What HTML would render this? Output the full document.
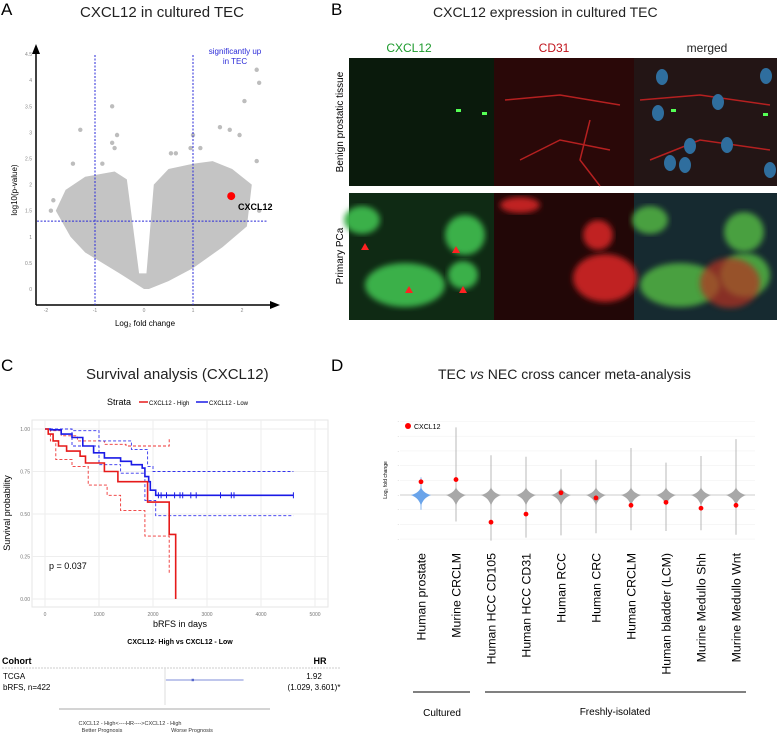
<!DOCTYPE html>
<html><head><meta charset="utf-8"><style>
body{margin:0;background:#fff;font-family:"Liberation Sans",sans-serif;}
#root{position:relative;width:780px;height:733px;overflow:hidden;}
.t{position:absolute;white-space:nowrap;}
</style></head><body>
<div id="root">
<div class="t" style="left:1px;top:0px;font-size:17px;">A</div>
<div class="t" style="left:80px;top:4px;font-size:15px;color:#222">CXCL12 in cultured TEC</div>
<div class="t" style="left:331px;top:0px;font-size:17px;">B</div>
<div class="t" style="left:433px;top:4px;font-size:14px;color:#222">CXCL12 expression in cultured TEC</div>
<div class="t" style="left:1px;top:356px;font-size:17px;">C</div>
<div class="t" style="left:86px;top:366px;font-size:15px;color:#222">Survival analysis (CXCL12)</div>
<div class="t" style="left:331px;top:356px;font-size:17px;">D</div>
<div class="t" style="left:438px;top:366px;font-size:14px;color:#222">TEC <i>vs</i> NEC cross cancer meta-analysis</div>
<svg id="svg" width="780" height="733" style="position:absolute;left:0;top:0">
<defs><filter id="bl"><feGaussianBlur stdDeviation="3"/></filter></defs>
</svg>
</div>
<script>
const NS="http://www.w3.org/2000/svg";const svg=document.getElementById('svg');
function el(tag,a,parent,txt){const e=document.createElementNS(NS,tag);for(const k in a)e.setAttribute(k,a[k]);if(txt!==undefined)e.textContent=txt;(parent||svg).appendChild(e);return e;}

/* ---------- Panel A: volcano ---------- */
const volcanoCloudX=[0,-0.5,-1.2,-1.5,-1.8,-1.6,-1.2,-0.6,-0.35,-0.1,0.05,0.2,0.5,1.0,1.4,1.8,2.2,2.1,1.6,1.0,0.5,0.1];
const volcanoCloudY=[0,0.3,0.7,1.0,1.5,1.9,2.15,2.25,2.1,0.3,0.3,2.0,2.3,2.4,2.45,2.3,2.0,1.2,0.8,0.4,0.15,0];
const outlierX=[2.3,2.35,2.05,1.55,1.75,1.95,-0.65,-1.3,-0.55,-0.65,-0.6,-1.45,-1.85,-1.9,1.0,0.95,1.15,0.65,2.3,2.35,-0.85,0.55];
const outlierY=[4.2,3.95,3.6,3.1,3.05,2.95,3.5,3.05,2.95,2.8,2.7,2.4,1.7,1.5,2.95,2.7,2.7,2.6,2.45,1.5,2.4,2.6];
const aTicks=[0,0.5,1,1.5,2,2.5,3,3.5,4,4.5];
const aXTicks=[-2,-1,0,1,2];
const cxcl12A={x:1.78,y:1.78};
const ax=v=>144+v*49, ay=v=>289-v*52.2;
const gA=el('g',{});

const cloud=el('polygon',{points:volcanoCloudX.map((x,i)=>ax(x)+','+ay(volcanoCloudY[i])).join(' '),fill:'#c4c4c4'},gA);

outlierX.forEach((x,i)=>{const c=el('circle',{cx:ax(x),cy:ay(outlierY[i]),r:2.2,fill:'#bdbdbd'},gA);
});
el('line',{x1:36,y1:305,x2:36,y2:52,stroke:'#000','stroke-width':1.5},gA);
el('polygon',{points:'36,44 32,54 40,54'},gA);
el('line',{x1:36,y1:305,x2:272,y2:305,stroke:'#000','stroke-width':1.5},gA);
el('polygon',{points:'280,305 270,301 270,309'},gA);
aTicks.forEach(t=>{const tx=el('text',{x:32,y:ay(t)+2,'font-size':5,fill:'#888','text-anchor':'end'},gA,String(t));});
aXTicks.forEach(t=>{const tx=el('text',{x:ax(t),y:312,'font-size':5,fill:'#888','text-anchor':'middle'},gA,String(t));});
[-1,1].forEach(v=>el('line',{x1:ax(v),y1:55,x2:ax(v),y2:305,stroke:'#2a2ad8','stroke-dasharray':'2,1.5','stroke-width':1},gA));
el('line',{x1:37,y1:ay(1.3),x2:268,y2:ay(1.3),stroke:'#2a2ad8','stroke-dasharray':'2,1.5','stroke-width':1},gA);
const cA=el('circle',{cx:ax(cxcl12A.x),cy:ay(cxcl12A.y),r:4,fill:'#f00'},gA);
el('text',{x:238,y:210,'font-size':9,'font-weight':'bold'},gA,'CXCL12');
el('text',{x:235,y:54,'font-size':8,fill:'#2a2ad8','text-anchor':'middle'},gA,'significantly up');
el('text',{x:235,y:64,'font-size':8,fill:'#2a2ad8','text-anchor':'middle'},gA,'in TEC');
el('text',{transform:'translate(17,190) rotate(-90)','font-size':8,'text-anchor':'middle'},gA,'log10(p-value)');
el('text',{x:145,y:326,'font-size':8,'text-anchor':'middle'},gA,'Log₂ fold change');

/* ---------- Panel B: micrographs ---------- */
const gB=el('g',{});
el('text',{x:409,y:52,'font-size':12,fill:'#1c9a2c','text-anchor':'middle'},gB,'CXCL12');
el('text',{x:554,y:52,'font-size':12,fill:'#c0121a','text-anchor':'middle'},gB,'CD31');
el('text',{x:707,y:52,'font-size':12,fill:'#222','text-anchor':'middle'},gB,'merged');
el('text',{transform:'translate(343,122) rotate(-90)','font-size':10,'text-anchor':'middle'},gB,'Benign prostatic tissue');
el('text',{transform:'translate(343,256) rotate(-90)','font-size':10,'text-anchor':'middle'},gB,'Primary PCa');
const cols=[[349,145],[494,140],[634,143]];
const rows=[[58,128],[193,127]];
const bgs=[['#0a1a0c','#2a0808','#231515'],['#0f2a14','#220707','#162a30']];
rows.forEach((r,ri)=>cols.forEach((c,ci)=>{const rc=el('rect',{x:c[0],y:r[0],width:c[1],height:r[1],fill:bgs[ri][ci]},gB);}));
[[456,109],[482,112],[671,109],[763,113]].forEach(p=>el('rect',{x:p[0],y:p[1],width:5,height:3,fill:'#5f5'},gB));
[[505,100,560,95,620,105],[520,160,560,140,610,150],[590,120,580,160,600,186],[640,100,700,95,770,105],[650,160,700,140,770,150]].forEach(p=>el('polyline',{points:p.join(' '),fill:'none',stroke:'#b52020','stroke-width':1.5},gB));
[[662,77],[766,76],[658,113],[718,102],[690,146],[727,145],[670,163],[685,165],[770,170]].forEach(p=>el('ellipse',{cx:p[0],cy:p[1],rx:6,ry:8,fill:'#2f6e9e'},gB));
[[362,220,18,14],[465,235,20,20],[463,275,15,14],[405,285,40,22]].forEach(p=>el('ellipse',{cx:p[0],cy:p[1],rx:p[2],ry:p[3],fill:'#3ab04a',filter:'url(#bl)'},gB));
[[605,278,32,24],[598,235,15,15],[520,205,20,8]].forEach(p=>el('ellipse',{cx:p[0],cy:p[1],rx:p[2],ry:p[3],fill:'#c02020',filter:'url(#bl)'},gB));
[[650,220,18,14],[744,232,20,20],[745,275,25,22],[680,285,40,22]].forEach(p=>el('ellipse',{cx:p[0],cy:p[1],rx:p[2],ry:p[3],fill:'#4aa040',filter:'url(#bl)'},gB));
el('ellipse',{cx:730,cy:283,rx:30,ry:25,fill:'#b83020',filter:'url(#bl)',opacity:0.7},gB);
[[365,247],[409,290],[456,250],[463,290]].forEach(p=>el('polygon',{points:`${p[0]},${p[1]-4} ${p[0]-4},${p[1]+3} ${p[0]+4},${p[1]+3}`,fill:'#f22'},gB));

/* ---------- Panel C: KM ---------- */
const blueT=[0,100,300,500,700,900,1100,1400,1600,1800,1850,1920,1950,2050,4600];
const blueS=[1,0.995,0.97,0.95,0.9,0.86,0.83,0.81,0.79,0.77,0.72,0.69,0.64,0.61,0.61];
const redT=[0,60,150,250,400,650,750,1100,1350,1900,2300,2420];
const redS=[1,0.97,0.93,0.9,0.87,0.84,0.8,0.75,0.69,0.57,0.38,0];
const redUpT=[0,100,300,600,1100,1500,2300];const redUpS=[1,0.99,0.96,0.93,0.91,0.9,0.95];
const redLoT=[0,100,200,500,800,1150,1400,1850,2300];const redLoS=[1,0.93,0.82,0.78,0.67,0.61,0.52,0.37,0.15];
const blueUpT=[0,500,1000,1600,1900,2000,4600];const blueUpS=[1,0.99,0.93,0.88,0.78,0.75,0.75];
const blueLoT=[0,500,1000,1400,1850,2050,4600];const blueLoS=[1,0.9,0.79,0.74,0.58,0.49,0.49];
const censorT=[2100,2150,2250,2400,2500,2550,2700,2800,3250,3450,3500,4600];
const cXTicks=[0,1000,2000,3000,4000,5000];const cYTicks=[0,0.25,0.5,0.75,1];
const cx=t=>45+t*0.054, cy=s=>599-s*170;
const gC=el('g',{});
el('rect',{x:32,y:420,width:296,height:187,fill:'#fff',stroke:'#e6e6e6'},gC);
cXTicks.forEach(t=>{el('line',{x1:cx(t),y1:420,x2:cx(t),y2:607,stroke:'#eee'},gC);const tx=el('text',{x:cx(t),y:616,'font-size':5,fill:'#777','text-anchor':'middle'},gC,String(t));});
cYTicks.forEach(t=>{el('line',{x1:32,y1:cy(t),x2:328,y2:cy(t),stroke:'#eee'},gC);const tx=el('text',{x:30,y:cy(t)+2,'font-size':5,fill:'#777','text-anchor':'end'},gC,t.toFixed(2));});
function step(T,S){let d='M'+cx(T[0])+','+cy(S[0]);for(let i=1;i<T.length;i++){d+=' H'+cx(T[i])+' V'+cy(S[i]);}return d;}
[[redUpT,redUpS,'#e33'],[redLoT,redLoS,'#e33'],[blueUpT,blueUpS,'#33e'],[blueLoT,blueLoS,'#33e']].forEach(a=>{const p=el('path',{d:step(a[0],a[1]),fill:'none',stroke:a[2],'stroke-dasharray':'3,2','stroke-width':0.9},gC);});
const pb=el('path',{d:step(blueT,blueS),fill:'none',stroke:'#1a1ae6','stroke-width':1.6},gC);
const pr=el('path',{d:step(redT,redS),fill:'none',stroke:'#e61a1a','stroke-width':1.6},gC);
censorT.forEach(t=>el('line',{x1:cx(t),y1:cy(0.61)-3,x2:cx(t),y2:cy(0.61)+3,stroke:'#1a1ae6'},gC));
el('text',{x:49,y:569,'font-size':9},gC,'p = 0.037');
el('text',{transform:'translate(10,513) rotate(-90)','font-size':9,'text-anchor':'middle'},gC,'Survival probability');
el('text',{x:180,y:627,'font-size':9,'text-anchor':'middle'},gC,'bRFS in days');
el('text',{x:107,y:405,'font-size':9},gC,'Strata');
el('line',{x1:139,y1:402,x2:148,y2:402,stroke:'#e61a1a','stroke-width':1.5},gC);
el('text',{x:149,y:405,'font-size':6},gC,'CXCL12 - High');
el('line',{x1:196,y1:402,x2:208,y2:402,stroke:'#1a1ae6','stroke-width':1.5},gC);
el('text',{x:209,y:405,'font-size':6},gC,'CXCL12 - Low');
const hrVal=[1.92],hrLo=[1.029],hrHi=[3.601];
const fx=v=>165+(v-1)*30.2;
el('text',{x:180,y:644,'font-size':7,'font-weight':'bold','text-anchor':'middle'},gC,'CXCL12- High vs CXCL12 - Low');
el('text',{x:2,y:664,'font-size':9,'font-weight':'bold'},gC,'Cohort');
el('text',{x:320,y:664,'font-size':9,'font-weight':'bold','text-anchor':'middle'},gC,'HR');
el('line',{x1:2,y1:668,x2:340,y2:668,stroke:'#999','stroke-dasharray':'2,1','stroke-width':0.6},gC);
el('text',{x:3,y:679,'font-size':8},gC,'TCGA');
el('text',{x:3,y:690,'font-size':8},gC,'bRFS, n=422');
el('text',{x:314,y:679,'font-size':8,'text-anchor':'middle'},gC,'1.92');
el('text',{x:314,y:690,'font-size':8,'text-anchor':'middle'},gC,'(1.029, 3.601)*');
el('line',{x1:fx(1),y1:668,x2:fx(1),y2:705,stroke:'#ddd'},gC);
const ci=el('line',{x1:fx(hrLo[0]),y1:680,x2:fx(hrHi[0]),y2:680,stroke:'#5566cc','stroke-width':0.8},gC);
el('rect',{x:fx(hrVal[0])-1.2,y:678.8,width:2.4,height:2.4,fill:'#5566cc'},gC);
el('line',{x1:59,y1:709,x2:270,y2:709,stroke:'#555','stroke-width':0.6},gC);
el('text',{x:130,y:725,'font-size':5.5,fill:'#333','text-anchor':'middle'},gC,'CXCL12 - High<----HR---->CXCL12 - High');
el('text',{x:102,y:732,'font-size':5.5,fill:'#333','text-anchor':'middle'},gC,'Better Prognosis');
el('text',{x:192,y:732,'font-size':5.5,fill:'#333','text-anchor':'middle'},gC,'Worse Prognosis');

/* ---------- Panel D: violins ---------- */
const dCats=['Human prostate','Murine CRCLM','Human HCC CD105','Human HCC CD31','Human RCC','Human CRC','Human CRCLM','Human bladder (LCM)','Murine Medullo Shh','Murine Medullo Wnt'];
const dCxcl12=[0.9,1.05,-1.85,-1.3,0.15,-0.2,-0.7,-0.5,-0.9,-0.7];
const dMax=[1.2,4.6,2.7,2.6,1.75,2.4,3.2,2.2,2.65,3.8];
const dMin=[-1,-1.8,-3.1,-2.9,-2.75,-2.6,-2.4,-2.45,-2.4,-2.7];
const dTicks=[-3,-2,-1,0,1,2,3,4,5];
const dx=i=>421+i*35, dy=v=>495-v*14.7;
const gD=el('g',{});
dTicks.forEach(t=>{el('line',{x1:400,y1:dy(t),x2:755,y2:dy(t),stroke:t===0?'#ccc':'#f2f2f2','stroke-width':t===0?1:0.6},gD);el('text',{x:399,y:dy(t)+1,'font-size':4,fill:'#999','text-anchor':'end'},gD,'-');});
el('text',{transform:'translate(387,480) rotate(-90)','font-size':5,'text-anchor':'middle'},gD,'Log₂ fold change');
dCats.forEach((c,i)=>{const col=i===0?'#6aa4ea':'#a8a8a8';
const tail=el('line',{x1:dx(i),y1:dy(dMax[i]),x2:dx(i),y2:dy(dMin[i]),stroke:col,'stroke-width':0.8},gD);
const y0=dy(0),x0=dx(i);
const v=el('path',{d:`M${x0-10},${y0} Q${x0-2},${y0-2} ${x0},${y0-8} Q${x0+2},${y0-2} ${x0+10},${y0} Q${x0+2},${y0+3} ${x0},${y0+11} Q${x0-2},${y0+3} ${x0-10},${y0}Z`,fill:col},gD);

const p=el('circle',{cx:dx(i),cy:dy(dCxcl12[i]),r:2.4,fill:'#f00'},gD);
const l=el('text',{transform:`translate(${dx(i)+4.5},553) rotate(-90)`,'font-size':12.3,'text-anchor':'end'},gD,c);});
el('circle',{cx:408,cy:426,r:3,fill:'#f00'},gD);
el('text',{x:414,y:429,'font-size':7},gD,'CXCL12');
el('line',{x1:413,y1:692,x2:470,y2:692,stroke:'#000','stroke-width':1},gD);
el('line',{x1:485,y1:692,x2:746,y2:692,stroke:'#000','stroke-width':1},gD);
el('text',{x:442,y:716,'font-size':10,'text-anchor':'middle'},gD,'Cultured');
el('text',{x:615,y:715,'font-size':10,'text-anchor':'middle'},gD,'Freshly-isolated');
</script>
</body></html>
